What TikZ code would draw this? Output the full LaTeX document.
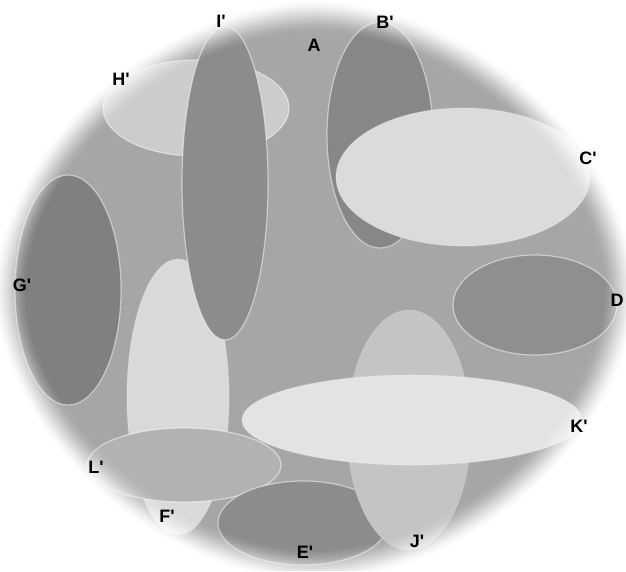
\documentclass[tikz,border=0pt]{standalone}
\usepackage{fontspec}
\setmainfont{Liberation Sans}
\usetikzlibrary{positioning,shapes.geometric}

\definecolor{ringbg}{gray}{0.65}

\newcommand{\tk}{\textquotesingle}
% outline of the backdrop, half axes #1 and #2
\newcommand{\rimpath}[2]{plot[domain=0:360, samples=121]
  ({315+#1*sign(cos(\x))*pow(abs(cos(\x))+0.00001,1.11)},
   {291+#2*sign(sin(\x))*pow(abs(sin(\x))+0.00001,1.11)})}

\tikzset{
  blob/.style={ellipse, inner sep=0pt, draw=white, draw opacity=0.5, line width=1.2pt},
  tag/.style={font=\fontsize{18}{20}\selectfont\bfseries, inner sep=0pt}
}

\begin{document}
\begin{tikzpicture}[x=1pt, y=-1pt]
  \useasboundingbox[fill=white] (0,0) rectangle (626,571);
  % flat backdrop
  \fill[ringbg] (0,0) rectangle (626,571);

  \node[blob, fill=black!20, minimum width=186pt, minimum height=96pt] (h) at (196,108) {};
  \node[blob, fill=black!15, draw opacity=0.2, minimum width=102pt, minimum height=276pt] (f) at (178,397) {};
  \node[blob, fill=black!45, minimum width=86pt, minimum height=314pt] (i) at (225,183) {};
  \node[blob, fill=black!50, minimum width=106pt, minimum height=230pt] (g) at (68,290) {};
  \node[blob, fill=black!47, minimum width=106pt, minimum height=226pt] (b) at (380,135) {};
  \node[blob, fill=black!14, draw opacity=0.2, minimum width=254pt, minimum height=138pt] (c) at (463,177) {};
  \node[blob, fill=black!44, minimum width=164pt, minimum height=100pt] (d) at (535,305) {};
  \node[blob, fill=black!30, minimum width=194pt, minimum height=74pt] (l) at (184,465) {};
  \node[blob, fill=black!45, minimum width=170pt, minimum height=84pt] (e) at (303,523) {};
  \node[blob, fill=black!23, draw opacity=0.1, minimum width=124pt, minimum height=240pt] (j) at (409,430) {};
  \node[blob, fill=black!11, draw opacity=0.2, minimum width=340pt, minimum height=90pt] (k) at (412,420) {};

  % soft white rim over everything
  \foreach \k in {1,...,30}{
    \pgfmathsetmacro{\ta}{(\k-1)/30}
    \pgfmathsetmacro{\tb}{\k/30}
    \pgfmathsetmacro{\sa}{3*\ta*\ta-2*\ta*\ta*\ta}
    \pgfmathsetmacro{\sb}{3*\tb*\tb-2*\tb*\tb*\tb}
    \pgfmathsetmacro{\op}{(\sb-\sa)/(1-\sa)}
    \pgfmathsetmacro{\rx}{285+1.2*\k}
    \pgfmathsetmacro{\ry}{255+1.2*\k}
    \fill[white, fill opacity=\op, even odd rule] (-10,-10) rectangle (640,585)
      \rimpath{\rx}{\ry};
  }

  % letters
  \node[tag] (ti) at (221,21) {I\tk};
  \node[tag] (ta) at (314,45) {A};
  \node[tag] (tb) at (385,22) {B\tk};
  \node[tag] (th) at (121,79) {H\tk};
  \node[tag] (tc) at (588,158) {C\tk};
  \node[tag] (tg) at (22,285) {G\tk};
  \node[tag] (td) at (617,300) {D};
  \node[tag] (tk) at (579,426) {K\tk};
  \node[tag] (tl) at (96,467) {L\tk};
  \node[tag] (tf) at (167,516) {F\tk};
  \node[tag] (te) at (305,552) {E\tk};
  \node[tag] (tj) at (417,541) {J\tk};
\end{tikzpicture}
\end{document}
